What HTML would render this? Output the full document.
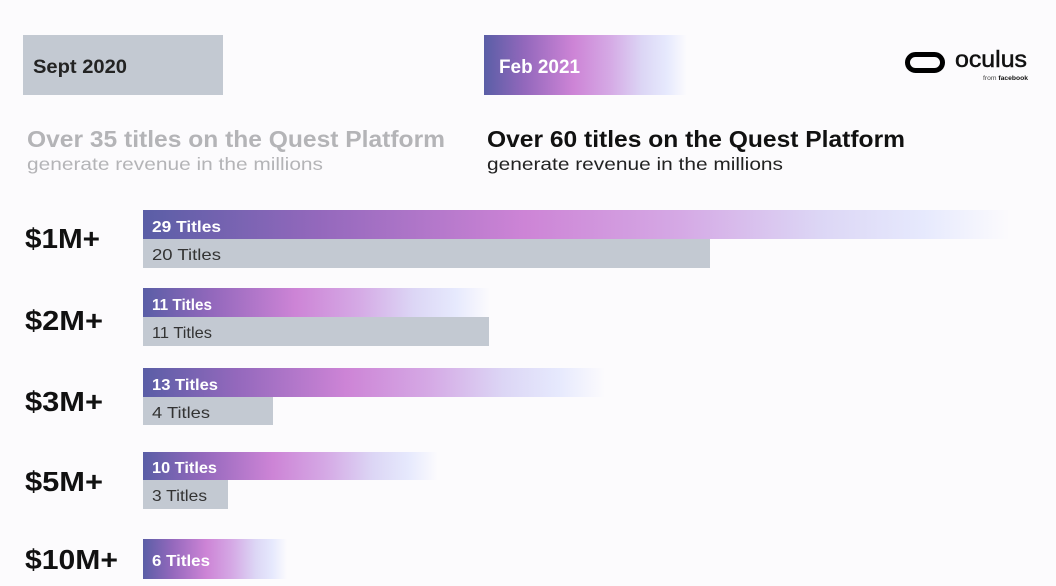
<!DOCTYPE html>
<html>
<head>
<meta charset="utf-8">
<style>
  html,body{margin:0;padding:0;background:#fcfbfd;}
  body{width:1056px;height:586px;overflow:hidden;}
  svg{display:block;}
  text{font-family:"Liberation Sans",sans-serif;}
</style>
</head>
<body>
<svg width="1056" height="586" viewBox="0 0 1056 586" xmlns="http://www.w3.org/2000/svg">
  <defs>
    <linearGradient id="pg" x1="0" y1="0" x2="1" y2="0">
      <stop offset="0" stop-color="#5a5ea6"/>
      <stop offset="0.2" stop-color="#9368bc"/>
      <stop offset="0.44" stop-color="#cd84d6"/>
      <stop offset="0.62" stop-color="#d5a9e5"/>
      <stop offset="0.78" stop-color="#dcd6f5"/>
      <stop offset="0.9" stop-color="#e6e9fd"/>
      <stop offset="1" stop-color="#fcfbfd"/>
    </linearGradient>
  </defs>
  <rect x="0" y="0" width="1056" height="586" fill="#fcfbfd"/>

  <!-- Header boxes -->
  <rect x="23" y="35" width="200" height="60" fill="#c3c9d2"/>
  <text x="33" y="73" font-size="19" font-weight="bold" fill="#232323" textLength="94" lengthAdjust="spacingAndGlyphs">Sept 2020</text>

  <rect x="484" y="35" width="203" height="60" fill="url(#pg)"/>
  <text x="499" y="73" font-size="19" font-weight="bold" fill="#ffffff" textLength="81" lengthAdjust="spacingAndGlyphs">Feb 2021</text>

  <!-- Oculus logo -->
  <rect x="907.5" y="54.5" width="35" height="16" rx="8" ry="8" fill="none" stroke="#000" stroke-width="5"/>
  <text x="955" y="67" font-size="23" fill="#111" stroke="#111" stroke-width="0.5" textLength="72" lengthAdjust="spacingAndGlyphs">oculus</text>
  <text x="983" y="80" font-size="6.5" fill="#444" textLength="45" lengthAdjust="spacingAndGlyphs">from <tspan font-weight="bold" fill="#111">facebook</tspan></text>

  <!-- Headlines -->
  <text x="27" y="147" font-size="23" font-weight="bold" fill="#b4b4b7" textLength="418" lengthAdjust="spacingAndGlyphs">Over 35 titles on the Quest Platform</text>
  <text x="27" y="170" font-size="17.5" fill="#b4b4b7" textLength="296" lengthAdjust="spacingAndGlyphs">generate revenue in the millions</text>

  <text x="487" y="147" font-size="23" font-weight="bold" fill="#111111" textLength="418" lengthAdjust="spacingAndGlyphs">Over 60 titles on the Quest Platform</text>
  <text x="487" y="170" font-size="17.5" fill="#222222" textLength="296" lengthAdjust="spacingAndGlyphs">generate revenue in the millions</text>

  <!-- Row labels -->
  <text x="25" y="248" font-size="28" font-weight="bold" fill="#111" textLength="75" lengthAdjust="spacingAndGlyphs">$1M+</text>
  <text x="25" y="330" font-size="28" font-weight="bold" fill="#111" textLength="78" lengthAdjust="spacingAndGlyphs">$2M+</text>
  <text x="25" y="411" font-size="28" font-weight="bold" fill="#111" textLength="78" lengthAdjust="spacingAndGlyphs">$3M+</text>
  <text x="25" y="491" font-size="28" font-weight="bold" fill="#111" textLength="78" lengthAdjust="spacingAndGlyphs">$5M+</text>
  <text x="25" y="569" font-size="28" font-weight="bold" fill="#111" textLength="93" lengthAdjust="spacingAndGlyphs">$10M+</text>

  <!-- $1M+ -->
  <rect x="143" y="210" width="867" height="29" fill="url(#pg)"/>
  <rect x="143" y="239" width="567" height="29" fill="#c3c9d2"/>
  <text x="152" y="232" font-size="16" font-weight="bold" fill="#fff" textLength="69" lengthAdjust="spacingAndGlyphs">29 Titles</text>
  <text x="152" y="260" font-size="16" fill="#333" textLength="69" lengthAdjust="spacingAndGlyphs">20 Titles</text>

  <!-- $2M+ -->
  <rect x="143" y="288" width="347" height="29" fill="url(#pg)"/>
  <rect x="143" y="317" width="346" height="29" fill="#c3c9d2"/>
  <text x="152" y="310" font-size="16" font-weight="bold" fill="#fff" textLength="60" lengthAdjust="spacingAndGlyphs">11 Titles</text>
  <text x="152" y="338" font-size="16" fill="#333" textLength="60" lengthAdjust="spacingAndGlyphs">11 Titles</text>

  <!-- $3M+ -->
  <rect x="143" y="368" width="462" height="29" fill="url(#pg)"/>
  <rect x="143" y="397" width="130" height="28" fill="#c3c9d2"/>
  <text x="152" y="390" font-size="16" font-weight="bold" fill="#fff" textLength="66" lengthAdjust="spacingAndGlyphs">13 Titles</text>
  <text x="152" y="418" font-size="16" fill="#333" textLength="58" lengthAdjust="spacingAndGlyphs">4 Titles</text>

  <!-- $5M+ -->
  <rect x="143" y="452" width="295" height="28" fill="url(#pg)"/>
  <rect x="143" y="480" width="85" height="29" fill="#c3c9d2"/>
  <text x="152" y="473" font-size="16" font-weight="bold" fill="#fff" textLength="65" lengthAdjust="spacingAndGlyphs">10 Titles</text>
  <text x="152" y="501" font-size="16" fill="#333" textLength="55" lengthAdjust="spacingAndGlyphs">3 Titles</text>

  <!-- $10M+ -->
  <rect x="143" y="539" width="144" height="40" fill="url(#pg)"/>
  <text x="152" y="566" font-size="16" font-weight="bold" fill="#fff" textLength="58" lengthAdjust="spacingAndGlyphs">6 Titles</text>
</svg>
</body>
</html>
